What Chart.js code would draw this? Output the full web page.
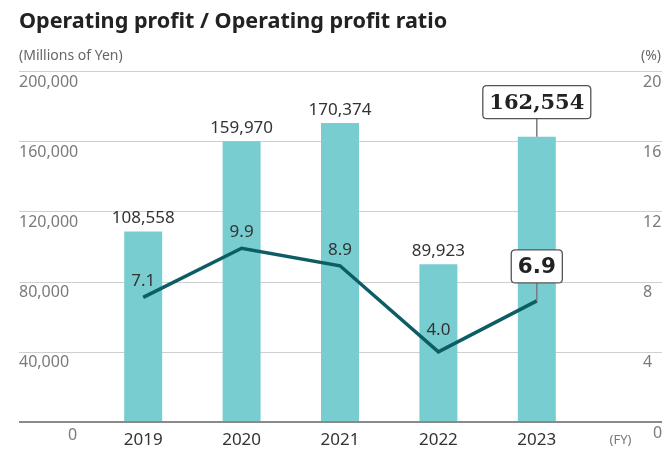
<!DOCTYPE html>
<html>
<head>
<meta charset="utf-8">
<script src="https://cdn.jsdelivr.net/npm/chart.js@4/dist/chart.umd.min.js"></script>
<style>
  html, body { margin: 0; padding: 0; background: #ffffff; }
  #wrap { width: 662px; height: 454px; position: relative; }
  canvas { display: block; }
</style>
</head>
<body>
<div id="wrap"><canvas id="c" width="662" height="454"></canvas></div>
<script>
// ---- data ----
const titleText = "Operating profit / Operating profit ratio";
const leftUnit = "(Millions of Yen)";
const rightUnit = "(%)";
const xUnit = "(FY)";
const categories = ["2019", "2020", "2021", "2022", "2023"];
const operatingProfit = [108558, 159970, 170374, 89923, 162554];
const profitRatio = [7.1, 9.9, 8.9, 4.0, 6.9];
const leftTicks = [0, 40000, 80000, 120000, 160000, 200000];
const rightTicks = [0, 4, 8, 12, 16, 20];

const SANS = '"Noto Sans", "Open Sans", sans-serif';
const fmtInt = v => v.toLocaleString('en-US');
const fmtPct = v => v.toFixed(1);

function roundRect(ctx, x, y, w, h, r) {
  ctx.beginPath();
  ctx.moveTo(x + r, y);
  ctx.lineTo(x + w - r, y);
  ctx.quadraticCurveTo(x + w, y, x + w, y + r);
  ctx.lineTo(x + w, y + h - r);
  ctx.quadraticCurveTo(x + w, y + h, x + w - r, y + h);
  ctx.lineTo(x + r, y + h);
  ctx.quadraticCurveTo(x, y + h, x, y + h - r);
  ctx.lineTo(x, y + r);
  ctx.quadraticCurveTo(x, y, x + r, y);
  ctx.closePath();
}

const decor = {
  id: 'decor',
  beforeDatasetsDraw(chart) {
    const ctx = chart.ctx;
    const yL = chart.scales.y, yR = chart.scales.y1;
    const W = chart.width;
    ctx.save();
    // title
    ctx.fillStyle = '#222';
    ctx.font = 'bold 21.6px ' + SANS;
    ctx.textAlign = 'left';
    ctx.textBaseline = 'alphabetic';
    ctx.fillText(titleText, 19, 28);
    // units
    ctx.fillStyle = '#666';
    ctx.font = '14px ' + SANS;
    ctx.textBaseline = 'middle';
    ctx.fillText(leftUnit, 19, 56);
    ctx.textAlign = 'right';
    ctx.fillText(rightUnit, W - 1, 56);
    // gridlines
    ctx.strokeStyle = '#cfcfcf';
    ctx.lineWidth = 1;
    leftTicks.forEach(v => {
      if (v === 0) return;
      const y = Math.round(yL.getPixelForValue(v)) + 0.5;
      ctx.beginPath();
      ctx.moveTo(19, y);
      ctx.lineTo(W, y);
      ctx.stroke();
    });
    // tick labels
    ctx.fillStyle = '#7a7a7a';
    ctx.font = '16px ' + SANS;
    ctx.textBaseline = 'middle';
    leftTicks.forEach(v => {
      const y = yL.getPixelForValue(v);
      if (v === 0) {
        ctx.textAlign = 'center';
        ctx.fillText(fmtInt(v), 72.5, y + 13);
      } else {
        ctx.textAlign = 'left';
        ctx.fillText(fmtInt(v), 19, y + 11);
      }
    });
    rightTicks.forEach(v => {
      const y = yR.getPixelForValue(v);
      ctx.textAlign = 'left';
      if (v === 0) {
        ctx.fillText(String(v), 653, y + 11);
      } else {
        ctx.fillText(String(v), 643, y + 11);
      }
    });
    // x labels
    const xs = chart.scales.x;
    ctx.fillStyle = '#333';
    ctx.font = '17px ' + SANS;
    ctx.textAlign = 'center';
    categories.forEach((c, i) => {
      ctx.fillText(c, xs.getPixelForValue(i), yL.getPixelForValue(0) + 18);
    });
    ctx.fillStyle = '#777';
    ctx.font = '13px ' + SANS;
    ctx.fillText(xUnit, 620.5, yL.getPixelForValue(0) + 18);
    ctx.restore();
  },
  afterDatasetsDraw(chart) {
    const ctx = chart.ctx;
    const yL = chart.scales.y;
    const W = chart.width;
    ctx.save();
    // baseline axis
    const y0 = yL.getPixelForValue(0);
    ctx.strokeStyle = '#8a8a8a';
    ctx.lineWidth = 2;
    ctx.beginPath();
    ctx.moveTo(19, y0);
    ctx.lineTo(W, y0);
    ctx.stroke();

    const barMeta = chart.getDatasetMeta(1);
    const lineMeta = chart.getDatasetMeta(0);
    const last = categories.length - 1;

    // normal value labels
    ctx.fillStyle = '#333';
    ctx.font = '17px ' + SANS;
    ctx.textAlign = 'center';
    ctx.textBaseline = 'middle';
    barMeta.data.forEach((el, i) => {
      if (i === last) return;
      ctx.fillText(fmtInt(operatingProfit[i]), el.x, el.y - 13);
    });
    lineMeta.data.forEach((el, i) => {
      if (i === last) return;
      const prev = profitRatio[i - 1], next = profitRatio[i + 1];
      const isMin = prev !== undefined && next !== undefined && profitRatio[i] < prev && profitRatio[i] < next;
      ctx.fillText(fmtPct(profitRatio[i]), el.x, el.y - (isMin ? 22 : 16));
    });

    // highlighted boxes for the latest year
    function callout(text, font, x, anchorY) {
      ctx.font = font;
      const tw = ctx.measureText(text).width;
      const w = tw + 13, h = 33;
      const bottom = anchorY - 18;
      const top = bottom - h;
      ctx.strokeStyle = '#7a7a7a';
      ctx.lineWidth = 1.5;
      ctx.beginPath();
      ctx.moveTo(x, bottom);
      ctx.lineTo(x, anchorY);
      ctx.stroke();
      roundRect(ctx, x - w / 2, top, w, h, 4);
      ctx.fillStyle = '#ffffff';
      ctx.fill();
      ctx.strokeStyle = '#555';
      ctx.lineWidth = 1.3;
      ctx.stroke();
      ctx.fillStyle = '#222';
      ctx.textAlign = 'center';
      ctx.textBaseline = 'middle';
      ctx.fillText(text, x, top + h / 2 + 1);
    }
    const b = barMeta.data[last];
    callout(fmtInt(operatingProfit[last]), 'bold 21px "DejaVu Serif", serif', b.x, b.y);
    const p = lineMeta.data[last];
    callout(fmtPct(profitRatio[last]), 'bold 21.5px "DejaVu Sans", sans-serif', p.x, p.y);
    ctx.restore();
  }
};

new Chart(document.getElementById('c'), {
  data: {
    labels: categories,
    datasets: [
      {
        type: 'line',
        label: 'Operating profit ratio',
        data: profitRatio,
        yAxisID: 'y1',
        borderColor: '#0c5d64',
        borderWidth: 3.5,
        pointRadius: 0,
        tension: 0,
        fill: false,
        order: 1
      },
      {
        type: 'bar',
        label: 'Operating profit',
        data: operatingProfit,
        yAxisID: 'y',
        backgroundColor: '#78cdd0',
        borderWidth: 0,
        barPercentage: 0.386,
        categoryPercentage: 1,
        order: 2
      }
    ]
  },
  options: {
    responsive: false,
    devicePixelRatio: 1,
    animation: false,
    layout: { padding: { left: 94, right: 76, top: 71, bottom: 32 } },
    plugins: { legend: { display: false }, tooltip: { enabled: false }, title: { display: false } },
    scales: {
      x: { type: 'category', display: false, offset: true },
      y: { display: false, min: 0, max: 200000 },
      y1: { display: false, min: 0, max: 20, position: 'right' }
    }
  },
  plugins: [decor]
});
</script>
</body>
</html>
